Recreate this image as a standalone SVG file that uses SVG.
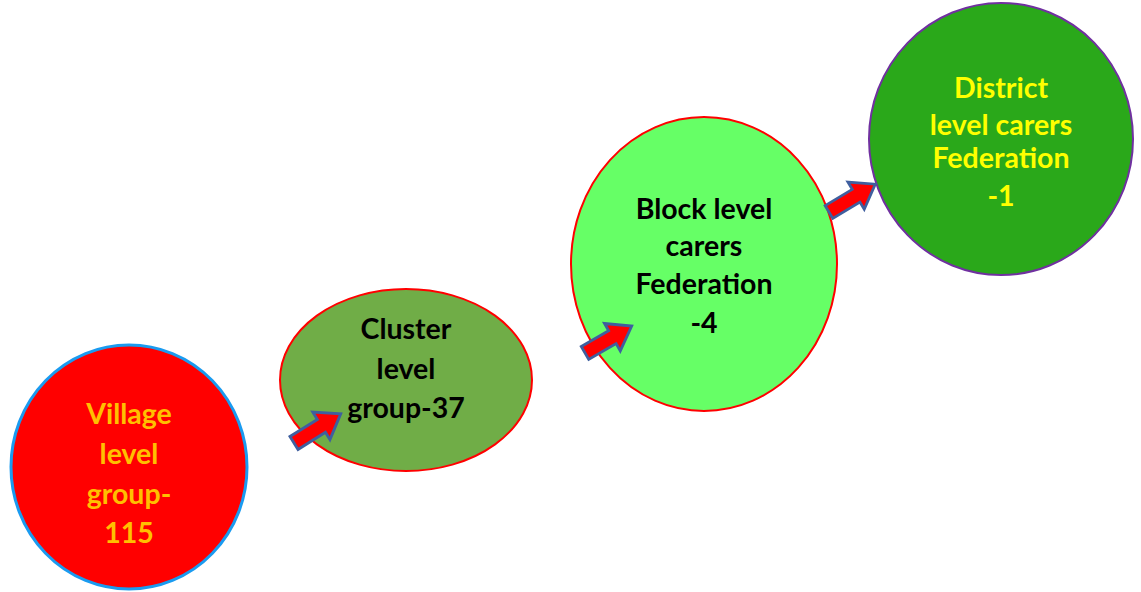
<svg xmlns="http://www.w3.org/2000/svg" width="1141" height="592" viewBox="0 0 1141 592">
<defs>
<style>
.t{font-family:Lato,"Liberation Sans",sans-serif;font-weight:bold;font-size:28.5px;text-anchor:middle}
.arr{fill:#ff0000;stroke:#3f5f9f;stroke-width:3;stroke-linejoin:miter}
</style>
<path id="arrow" d="M0,-8 L34,-8 L34,-17 L58,0 L34,17 L34,8 L0,8 Z"/>
</defs>
<rect width="1141" height="592" fill="#fff"/>
<g id="village">
<ellipse cx="129" cy="467" rx="118" ry="122" fill="#ff0000" stroke="#1a9bf0" stroke-width="3"/>
<text class="t" fill="#ffc000"><tspan x="129" y="424">Village</tspan><tspan x="129" y="464">level</tspan><tspan x="129" y="504">group-</tspan><tspan x="129" y="543">115</tspan></text>
</g>
<g id="cluster">
<ellipse cx="406" cy="380" rx="126" ry="91" fill="#70ad47" stroke="#ff0000" stroke-width="2"/>
<text class="t" fill="#000"><tspan x="406" y="339">Cluster</tspan><tspan x="406" y="379">level</tspan><tspan x="406" y="418">group-37</tspan></text>
</g>
<g id="block">
<ellipse cx="704" cy="264" rx="133" ry="147" fill="#66ff66" stroke="#ff0000" stroke-width="2"/>
<text class="t" fill="#000"><tspan x="704" y="219">Block level</tspan><tspan x="704" y="256">carers</tspan><tspan x="704" y="294">Federation</tspan><tspan x="704" y="333">-4</tspan></text>
</g>
<g id="district">
<ellipse cx="1001" cy="139" rx="132" ry="136" fill="#2aa81a" stroke="#7030a0" stroke-width="2"/>
<text class="t" fill="#ffff00"><tspan x="1001" y="98">District</tspan><tspan x="1001" y="135">level carers</tspan><tspan x="1001" y="168">Federation</tspan><tspan x="1001" y="206">-1</tspan></text>
</g>
<g id="connectors">
<use href="#arrow" class="arr" transform="translate(294,443) rotate(-32) scale(0.95)"/>
<use href="#arrow" class="arr" transform="translate(585,353) rotate(-30) scale(0.93)"/>
<use href="#arrow" class="arr" transform="translate(829,212) rotate(-31) scale(0.93)"/>
</g>
</svg>
